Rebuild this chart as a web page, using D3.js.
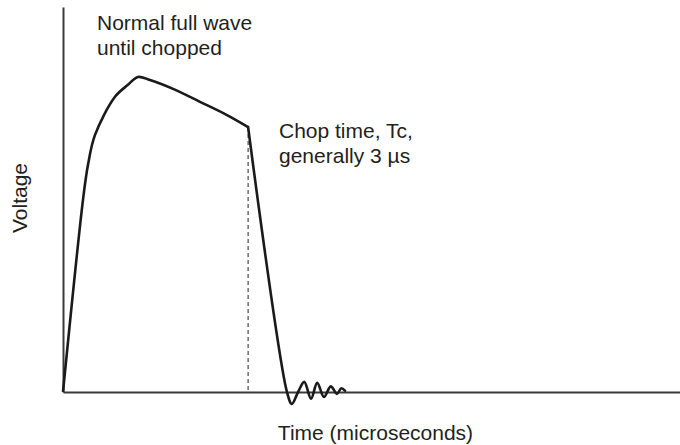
<!DOCTYPE html>
<html>
<head>
<meta charset="utf-8">
<script src="https://cdn.jsdelivr.net/npm/d3@7"></script>
<style>
  html, body { margin: 0; padding: 0; background: #fff; }
  svg { display: block; }
  text { font-family: "Liberation Sans", Arial, Helvetica, sans-serif; fill: #231f20; }
</style>
</head>
<body>
<svg id="chart" width="680" height="445"></svg>
<script>
// ---- data (time in microseconds, voltage in per-unit of peak) ----
const waveTime    = [0, 0.324, 0.405, 0.519, 0.843, 1.053, 1.216, 1.41, 1.783, 2.22, 2.658, 3.0];
const waveVoltage = [0, 0.610, 0.721, 0.816, 0.937, 0.975, 1.0, 0.990, 0.962, 0.921, 0.879, 0.841];
const chopTime = 3.0;
const tailTime    = [3.0, 3.63, 3.71, 3.81, 3.91, 4.02, 4.12, 4.23, 4.34, 4.44, 4.51, 4.57];
const tailVoltage = [0.841, 0, -0.038, 0, 0.032, -0.021, 0.029, -0.016, 0.018, -0.006, 0.012, 0.004];
const xTitle = "Time (microseconds)";
const yTitle = "Voltage";
const noteFull = ["Normal full wave", "until chopped"];
const noteChop = ["Chop time, Tc,", "generally 3 \u00b5s"];

// ---- layout ----
const svg = d3.select("#chart");
const x = d3.scaleLinear().domain([0, 10]).range([63, 680]);
const y = d3.scaleLinear().domain([0, 1.222]).range([392, 7]);

// axes (plain lines, no ticks)
const xAxis = d3.axisBottom(x).tickValues([]).tickSizeOuter(0);
const yAxis = d3.axisLeft(y).tickValues([]).tickSizeOuter(0);
svg.append("g").attr("transform", `translate(0,${y(0)})`).call(xAxis)
   .select(".domain").attr("stroke", "#3a3a3a").attr("stroke-width", 2);
svg.append("g").attr("transform", `translate(${x(0)},0)`).call(yAxis)
   .select(".domain").attr("stroke", "#3a3a3a").attr("stroke-width", 2);

// chop time dashed marker
const chopV = waveVoltage[waveVoltage.length - 1];
svg.append("line")
  .attr("x1", x(chopTime)).attr("x2", x(chopTime))
  .attr("y1", y(chopV)).attr("y2", y(0))
  .attr("stroke", "#231f20").attr("stroke-width", 1)
  .attr("stroke-dasharray", "4,3");

// full wave until chopped
const wave = waveTime.map((t, i) => [t, waveVoltage[i]]);
svg.append("path")
  .attr("d", d3.line().x(d => x(d[0])).y(d => y(d[1])).curve(d3.curveCatmullRom.alpha(0.5))(wave))
  .attr("fill", "none").attr("stroke", "#1a1a1a").attr("stroke-width", 2.6)
  .attr("stroke-linejoin", "round");

// chop collapse + oscillation
const tail = tailTime.map((t, i) => [t, tailVoltage[i]]);
svg.append("path")
  .attr("d", d3.line().x(d => x(d[0])).y(d => y(d[1])).curve(d3.curveCatmullRom.alpha(0.5))(tail))
  .attr("fill", "none").attr("stroke", "#1a1a1a").attr("stroke-width", 2.6)
  .attr("stroke-linejoin", "round").attr("stroke-linecap", "round");

// annotations
const fs = 21;
const g1 = svg.append("text").attr("x", 97).attr("y", 30).attr("font-size", fs);
noteFull.forEach((s, i) => g1.append("tspan").attr("x", 97).attr("dy", i ? 25 : 0).text(s));
const g2 = svg.append("text").attr("x", 279).attr("y", 138).attr("font-size", fs);
noteChop.forEach((s, i) => g2.append("tspan").attr("x", 279).attr("dy", i ? 25 : 0).text(s));

// axis titles
svg.append("text").attr("x", d3.mean(x.range()) + 4).attr("y", 440)
  .attr("text-anchor", "middle").attr("font-size", fs).text(xTitle);
svg.append("text").attr("transform", "translate(27,198) rotate(-90)")
  .attr("text-anchor", "middle").attr("font-size", fs).text(yTitle);
</script>
</body>
</html>
